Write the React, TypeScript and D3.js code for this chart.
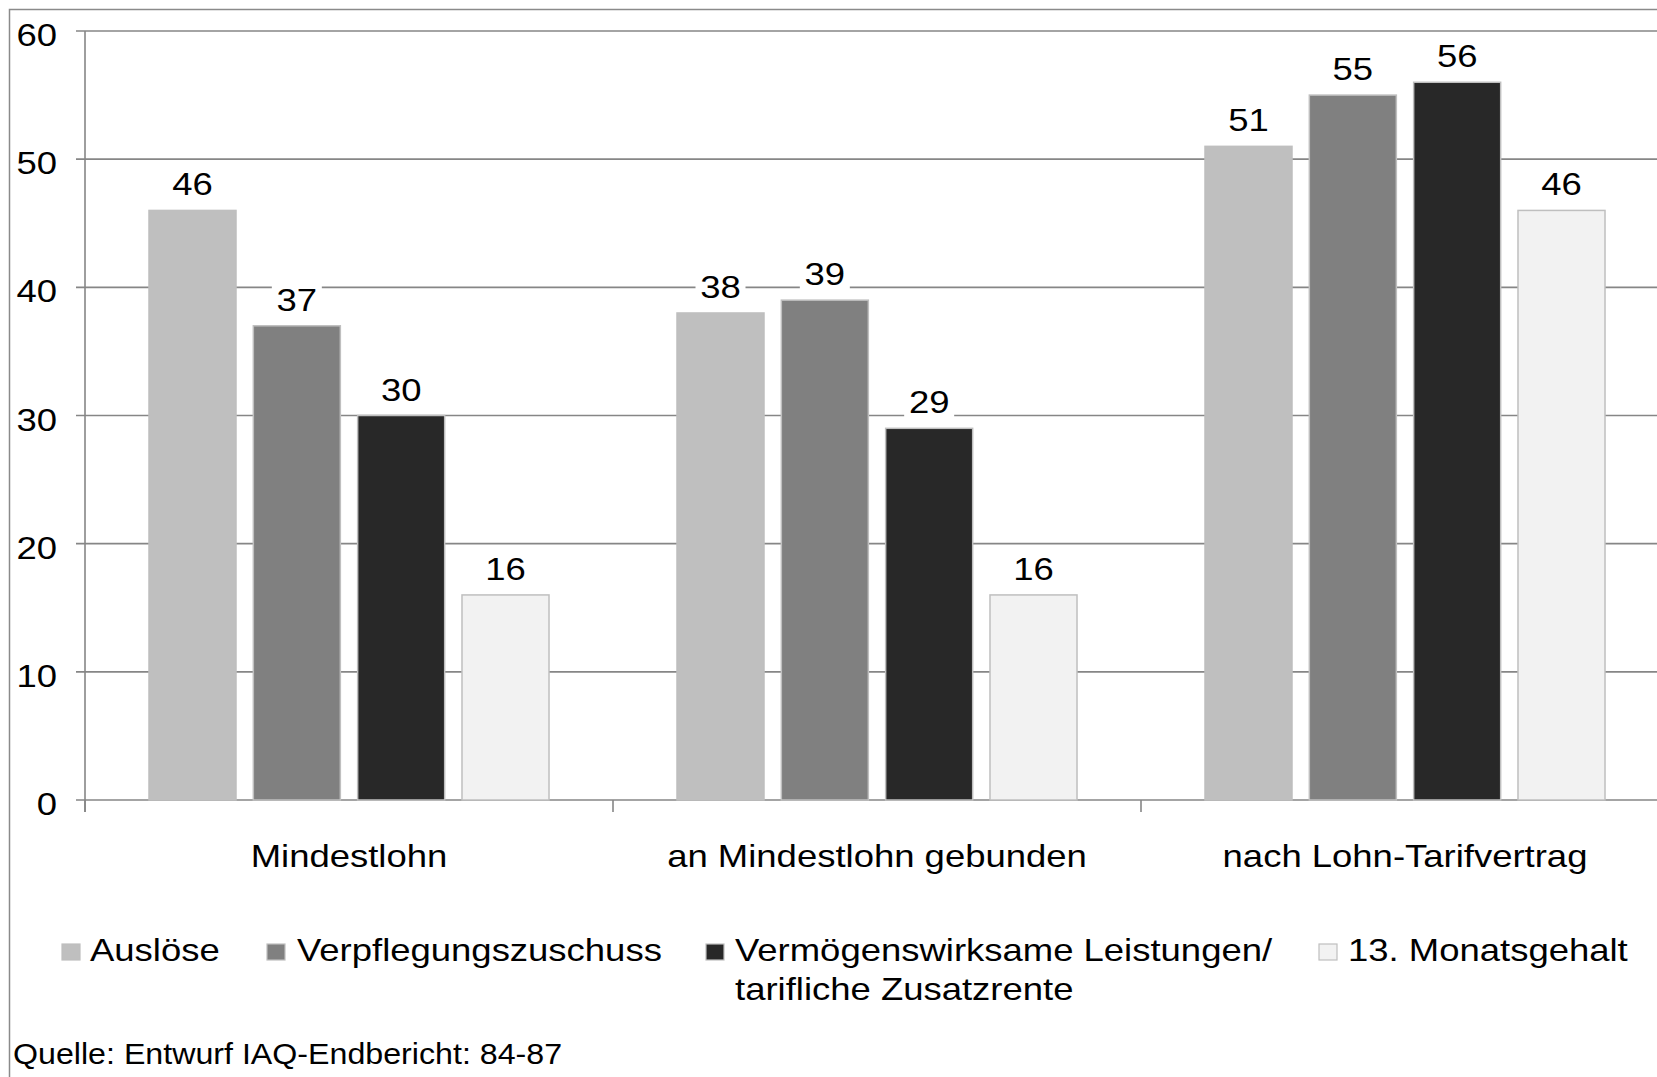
import React from "react";
import * as d3 from "d3";

const categories = ["Mindestlohn", "an Mindestlohn gebunden", "nach Lohn-Tarifvertrag"];
const seriesNames = ["Auslöse", "Verpflegungszuschuss", "Vermögenswirksame Leistungen/|tarifliche Zusatzrente", "13. Monatsgehalt"];
const seriesColors = ["#bfbfbf", "#808080", "#282828", "#f2f2f2"];
const valuesAusloese = [46, 38, 51];
const valuesVerpflegung = [37, 39, 55];
const valuesVermoegen = [30, 29, 56];
const valuesMonatsgehalt = [16, 16, 46];
const yTicks = [0, 10, 20, 30, 40, 50, 60];
const sourceText = "Quelle: Entwurf IAQ-Endbericht: 84-87";

const W = 1657;
const H = 1077;
const SX = 1.14;
const FONT = "'Liberation Sans', Arial, sans-serif";

export default function App() {
  const series = [valuesAusloese, valuesVerpflegung, valuesVermoegen, valuesMonatsgehalt];
  const left = 85;
  const bandW = 528;
  const x0 = d3.scaleBand<string>().domain(categories).range([left, left + bandW * 3]).padding(0);
  const x1 = d3.scaleBand<number>().domain([0, 1, 2, 3]).range([64, 464]).paddingInner(0.166).paddingOuter(0);
  const y = d3.scaleLinear().domain([0, 60]).range([800, 31]);
  const gridColor = "#868686";

  const T = (x: number, yy: number, s = SX) => `translate(${x},${yy}) scale(${s},1)`;

  const legendItems = [
    { sx: 62, tx: 90 },
    { sx: 267, tx: 297 },
    { sx: 706, tx: 735 },
    { sx: 1319, tx: 1348 },
  ];

  return (
    <svg width={W} height={H} style={{ position: "absolute", left: 0, top: 0, display: "block", background: "#fff" }} fontFamily={FONT}>
      <rect x={0} y={0} width={W} height={H} fill="#fff" />
      <rect x={9.5} y={9.5} width={W + 20} height={H + 20} fill="none" stroke="#8a8a8a" strokeWidth={1.5} />
      {/* gridlines */}
      {yTicks.map((t) => (
        <g key={t}>
          <line x1={76} x2={W + 20} y1={y(t)} y2={y(t)} stroke={gridColor} strokeWidth={1.6} />
          <text transform={T(57, y(t) + 15)} textAnchor="end" fontSize={32} fill="#000">{t}</text>
        </g>
      ))}
      <line x1={left} x2={left} y1={y(60)} y2={812} stroke={gridColor} strokeWidth={1.6} />
      {[0, 1, 2, 3].map((i) => (
        <line key={i} x1={left + bandW * i} x2={left + bandW * i} y1={800} y2={812} stroke={gridColor} strokeWidth={1.6} />
      ))}
      {/* bars */}
      {categories.map((c, ci) => (
        <g key={c}>
          {series.map((vals, si) => {
            const bx = (x0(c) as number) + (x1(si) as number);
            const bw = x1.bandwidth();
            return (
              <rect key={si} x={bx} y={y(vals[ci])} width={bw} height={y(0) - y(vals[ci])} fill={seriesColors[si]} stroke="#bfbfbf" strokeWidth={1.5} />
            );
          })}
        </g>
      ))}
      {/* labels */}
      {categories.map((c, ci) => (
        <g key={c + "l"}>
          {series.map((vals, si) => {
            const cx = (x0(c) as number) + (x1(si) as number) + x1.bandwidth() / 2;
            const by = y(vals[ci]) - 15;
            return (
              <g key={si}>
                <rect x={cx - 25} y={by - 28} width={50} height={33} fill="#fff" />
                <text transform={T(cx, by)} textAnchor="middle" fontSize={32} fill="#000">{vals[ci]}</text>
              </g>
            );
          })}
        </g>
      ))}
      {/* category labels */}
      {categories.map((c) => (
        <text key={c} transform={T((x0(c) as number) + bandW / 2, 867)} textAnchor="middle" fontSize={32} fill="#000">{c}</text>
      ))}
      {/* legend */}
      {seriesNames.map((n, i) => {
        const lines = n.split("|");
        return (
          <g key={n}>
            <rect x={legendItems[i].sx} y={944} width={18} height={16} fill={seriesColors[i]} stroke="#bfbfbf" strokeWidth={1.2} />
            {lines.map((ln, li) => (
              <text key={li} transform={T(legendItems[i].tx, 961 + li * 39)} fontSize={32} fill="#000">{ln}</text>
            ))}
          </g>
        );
      })}
      <text transform={T(13, 1064, 1.11)} fontSize={29} fill="#000">{sourceText}</text>
    </svg>
  );
}
